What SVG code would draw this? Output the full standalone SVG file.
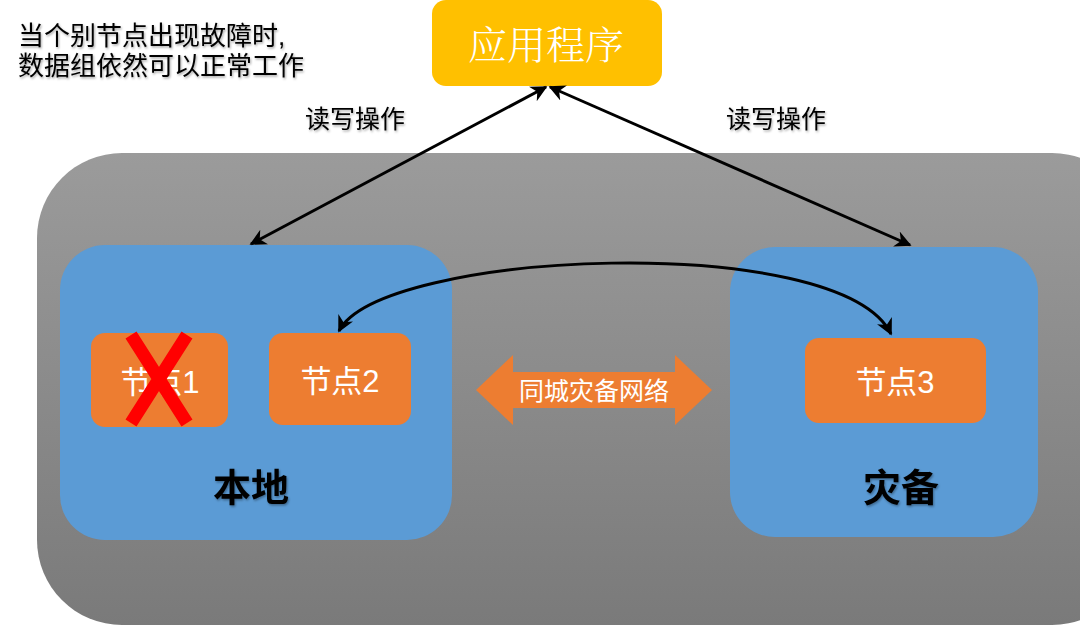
<svg xmlns="http://www.w3.org/2000/svg" width="1080" height="625" viewBox="0 0 1080 625">
<defs>
<linearGradient id="gbg" x1="0" y1="0" x2="0" y2="1">
<stop offset="0" stop-color="#9b9b9b"/>
<stop offset="1" stop-color="#7a7a7a"/>
</linearGradient>
<marker id="ah" viewBox="0 0 10 10" refX="9" refY="5" markerWidth="5.5" markerHeight="5.5" orient="auto-start-reverse" markerUnits="strokeWidth">
<path d="M0,0 L10,5 L0,10 L3,5 z" fill="#000"/>
</marker>
<filter id="sh" x="-5%" y="-20%" width="110%" height="140%">
<feDropShadow dx="1" dy="1.5" stdDeviation="1" flood-color="#000" flood-opacity="0.35"/>
</filter>
</defs>
<style>
.t{font-family:"Liberation Sans","Noto Sans CJK SC",sans-serif}
.w{fill:#fff}
.blue{fill:#5b9bd5}
.org{fill:#ed7d31}
.line{fill:none;stroke:#000;stroke-width:3}
</style>
<rect width="1080" height="625" fill="#fff"/>
<g id="container"><rect x="37" y="153" width="1100" height="472" rx="85" fill="url(#gbg)"/></g>
<g id="app"><rect x="432" y="0" width="230" height="86" rx="14" fill="#ffc000"/>
<text class="w" x="546" y="59" font-size="39" text-anchor="middle" style="font-family:'Noto Serif CJK SC','Noto Sans CJK SC',serif;font-weight:300">应用程序</text></g>
<g id="local"><rect x="60" y="245" width="392" height="295" rx="45" class="blue"/>
<text class="t" x="251" y="501" font-size="38" text-anchor="middle" font-weight="bold" filter="url(#sh)">本地</text></g>
<g id="dr"><rect x="730" y="247" width="308" height="290" rx="45" class="blue"/>
<text class="t" x="901" y="501" font-size="38" text-anchor="middle" font-weight="bold" filter="url(#sh)">灾备</text></g>
<g id="node1"><rect x="91" y="333" width="137" height="94" rx="14" class="org"/>
<text class="t w" x="160" y="393" font-size="31" text-anchor="middle">节点1</text>
<path d="M131,335 L187,423 M187,335 L131,423" stroke="#ff0000" stroke-width="13" fill="none"/></g>
<g id="node2"><rect x="269" y="333" width="142" height="92" rx="14" class="org"/>
<text class="t w" x="340" y="392" font-size="31" text-anchor="middle">节点2</text></g>
<g id="node3"><rect x="805" y="338" width="181" height="85" rx="14" class="org"/>
<text class="t w" x="895" y="393" font-size="31" text-anchor="middle">节点3</text></g>
<g id="net"><path d="M476,390 L513,355 L513,372 L675,372 L675,355 L712,390 L675,425 L675,408 L513,408 L513,425 z" class="org"/>
<text class="t w" x="594" y="400" font-size="25" text-anchor="middle">同城灾备网络</text></g>
<g id="connectors">
<line x1="546" y1="87" x2="251" y2="244" class="line" marker-start="url(#ah)" marker-end="url(#ah)"/>
<line x1="550" y1="87" x2="910" y2="245" class="line" marker-start="url(#ah)" marker-end="url(#ah)"/>
<path d="M339,331 C380,250 840,230 891,334" class="line" marker-start="url(#ah)" marker-end="url(#ah)"/>
</g>
<g id="labels">
<text class="t" x="18" y="45" font-size="26" filter="url(#sh)">当个别节点出现故障时,</text>
<text class="t" x="18" y="75" font-size="26" filter="url(#sh)">数据组依然可以正常工作</text>
<text class="t" x="355" y="128" font-size="25" text-anchor="middle" filter="url(#sh)">读写操作</text>
<text class="t" x="776" y="128" font-size="25" text-anchor="middle" filter="url(#sh)">读写操作</text>
</g>
</svg>
